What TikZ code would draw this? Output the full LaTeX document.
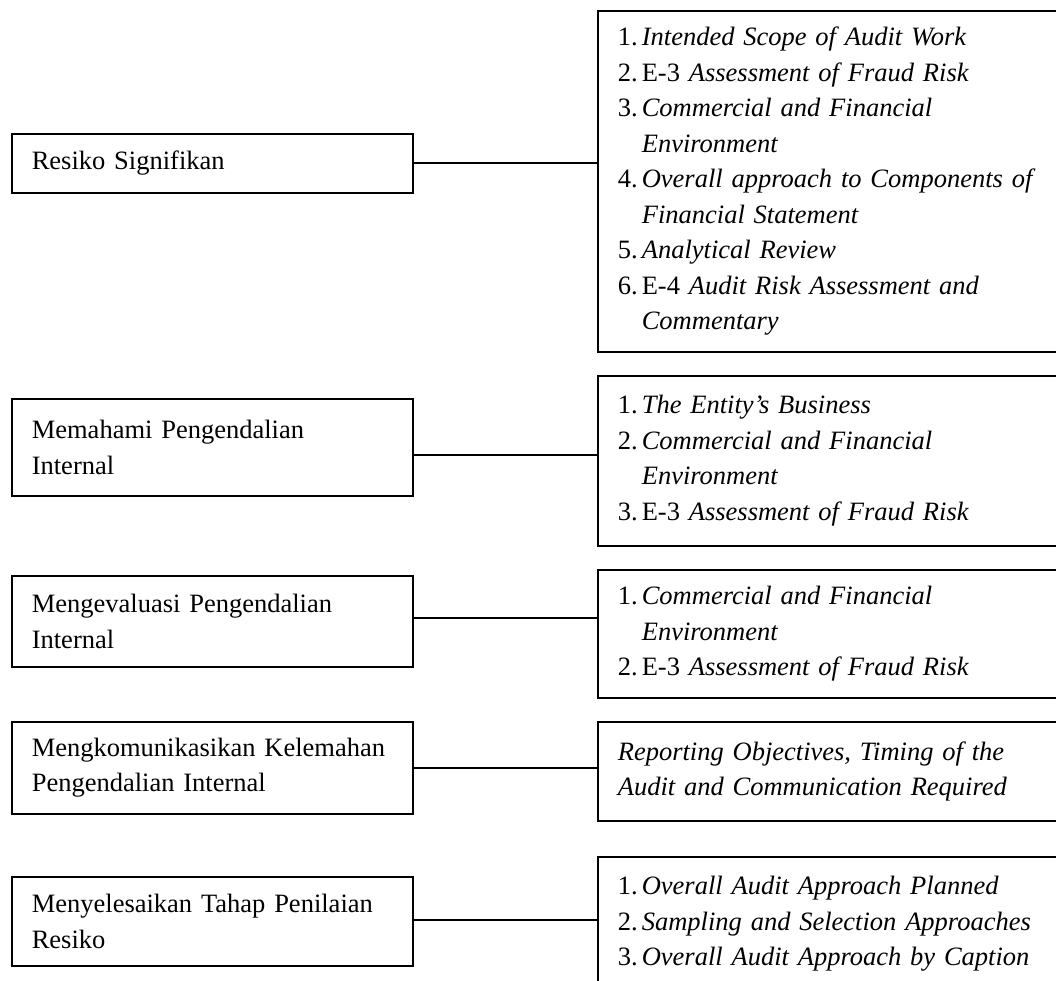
\documentclass[tikz,border=0pt]{standalone}
\usepackage{fontspec}
\setmainfont{Liberation Serif}
\usetikzlibrary{positioning}

\newcommand{\itemno}[1]{\makebox[24pt][l]{#1}}
\newcommand{\itemgap}{\hspace*{24pt}}

\begin{document}
\begin{tikzpicture}[
  x=1pt, y=-1pt,
  font=\fontsize{26.5}{35.5}\selectfont,
  stage/.style={draw, line width=1.6pt, anchor=north west, align=left,
    text width=361pt, inner xsep=20pt, inner ysep=0pt},
  detail/.style={draw, line width=1.6pt, anchor=north west, align=left,
    text width=480pt, inner xsep=20pt, inner ysep=0pt},
  link/.style={line width=1.6pt}
]
\useasboundingbox (0,0) rectangle (1056,981);
\clip (0,0) rectangle (1056,981);

% ---------- Tahap (left) ----------
\node[stage, minimum height=59pt] (signif) at (11,133)
  {Resiko Signifikan};
\node[stage, minimum height=97pt] (pahami) at (11,398)
  {Memahami Pengendalian\\ Internal};
\node[stage, minimum height=91pt] (evaluasi) at (11,575)
  {Mengevaluasi Pengendalian\\ Internal};
\node[stage, minimum height=92pt] (komunikasi) at (11,721)
  {Mengkomunikasikan Kelemahan\\ Pengendalian Internal};
\node[stage, minimum height=89pt] (selesai) at (11,876)
  {Menyelesaikan Tahap Penilaian\\ Resiko};

% ---------- Kertas kerja (right) ----------
\node[detail, minimum height=341pt] (signifdoc) at (597,10)
  {\itemno{1.}\textit{Intended Scope of Audit Work}\\
   \itemno{2.}E-3 \textit{Assessment of Fraud Risk}\\
   \itemno{3.}\textit{Commercial and Financial}\\
   \itemgap\textit{Environment}\\
   \itemno{4.}\textit{Overall approach to Components of}\\
   \itemgap\textit{Financial Statement}\\
   \itemno{5.}\textit{Analytical Review}\\
   \itemno{6.}E-4 \textit{Audit Risk Assessment and}\\
   \itemgap\textit{Commentary}};
\node[detail, minimum height=170pt] (pahamidoc) at (597,375)
  {\itemno{1.}\textit{The Entity’s Business}\\
   \itemno{2.}\textit{Commercial and Financial}\\
   \itemgap\textit{Environment}\\
   \itemno{3.}E-3 \textit{Assessment of Fraud Risk}};
\node[detail, minimum height=128pt] (evaluasidoc) at (597,569)
  {\itemno{1.}\textit{Commercial and Financial}\\
   \itemgap\textit{Environment}\\
   \itemno{2.}E-3 \textit{Assessment of Fraud Risk}};
\node[detail, minimum height=99pt] (komunikasidoc) at (597,721)
  {\textit{Reporting Objectives, Timing of the}\\
   \textit{Audit and Communication Required}};
\node[detail, minimum height=134pt] (selesaidoc) at (597,856)
  {\itemno{1.}\textit{Overall Audit Approach Planned}\\
   \itemno{2.}\textit{Sampling and Selection Approaches}\\
   \itemno{3.}\textit{Overall Audit Approach by Caption}};

% ---------- Connectors ----------
\draw[link] (signif.east) -- (signif.east -| signifdoc.west);
\draw[link] ([yshift=-7.5pt]pahami.east) -- ([yshift=-7.5pt]pahami.east -| pahamidoc.west);
\draw[link] ([yshift=3.5pt]evaluasi.east) -- ([yshift=3.5pt]evaluasi.east -| evaluasidoc.west);
\draw[link] (komunikasi.east) -- (komunikasi.east -| komunikasidoc.west);
\draw[link] ([yshift=1.5pt]selesai.east) -- ([yshift=1.5pt]selesai.east -| selesaidoc.west);
\end{tikzpicture}
\end{document}
